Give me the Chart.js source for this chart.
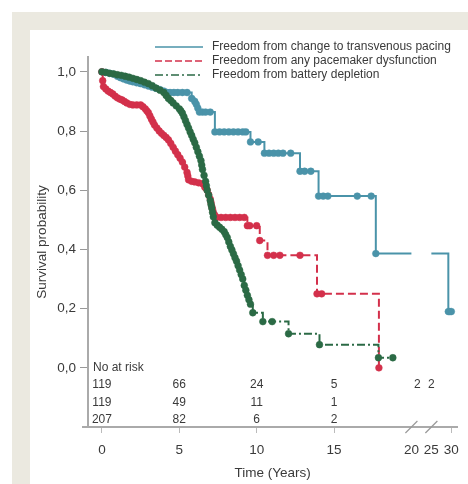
<!DOCTYPE html>
<html>
<head>
<meta charset="utf-8">
<script src="https://cdn.jsdelivr.net/npm/chart.js@4.4.0/dist/chart.umd.min.js"></script>
<style>
  html, body { margin: 0; padding: 0; background: #fff; }
  .frame { position: absolute; left: 12px; top: 12px; width: 456px; height: 472px; background: #ebe9e0; }
  .panel { position: absolute; left: 30px; top: 30px; width: 438px; height: 454px; background: #fff; }
  .wrap { position: absolute; left: 0; top: 0; width: 468px; height: 484px; }
</style>
</head>
<body>
<div class="frame"></div>
<div class="panel"></div>
<div class="wrap"><canvas id="km"></canvas></div>
<script>
// Kaplan-Meier estimates, time in years (steps + censoring marks)
const pacingTime = [0, 0.25, 0.5, 0.75, 1.0, 1.2, 1.4, 1.6, 1.8, 2.0, 2.25, 2.5, 2.75, 3.0, 3.25, 3.5, 3.75, 4.0, 4.2, 4.4, 4.65, 4.9, 5.2, 5.5, 5.8, 6.0, 6.1, 6.2, 6.3, 6.5, 6.7, 7.0, 7.3, 7.6, 7.9, 8.2, 8.5, 8.8, 9.1, 9.3, 9.6, 10.1, 10.5, 10.8, 11.1, 11.4, 11.7, 12.2, 12.8, 13.1, 13.5, 14.0, 14.3, 14.6, 16.5, 17.4, 17.7, 20, 25, 29.25, 29.6, 30];
const pacingSurv = [1.0, 0.998, 0.995, 0.992, 0.985, 0.98, 0.976, 0.972, 0.969, 0.966, 0.963, 0.96, 0.956, 0.952, 0.948, 0.944, 0.94, 0.935, 0.93, 0.93, 0.93, 0.93, 0.93, 0.93, 0.91, 0.90, 0.89, 0.877, 0.864, 0.864, 0.864, 0.864, 0.797, 0.797, 0.797, 0.797, 0.797, 0.797, 0.797, 0.797, 0.763, 0.763, 0.725, 0.725, 0.725, 0.725, 0.725, 0.725, 0.664, 0.664, 0.664, 0.58, 0.58, 0.58, 0.58, 0.58, 0.386, 0.386, 0.386, 0.19, 0.19, 0.19];

const dysfTime = [0, 0.05, 0.1, 0.25, 0.4, 0.55, 0.7, 0.85, 1.0, 1.15, 1.3, 1.45, 1.6, 1.8, 2.0, 2.25, 2.5, 2.65, 2.8, 2.9, 3.0, 3.1, 3.2, 3.3, 3.4, 3.55, 3.7, 3.85, 4.0, 4.15, 4.3, 4.45, 4.6, 4.75, 4.9, 5.05, 5.2, 5.35, 5.5, 5.55, 5.6, 5.8, 6.0, 6.25, 6.5, 6.65, 6.8, 6.9, 7.0, 7.05, 7.1, 7.15, 7.2, 7.3, 7.4, 7.7, 8.0, 8.3, 8.6, 8.9, 9.2, 9.4, 9.55, 10.0, 10.2, 10.7, 11.1, 11.5, 12.8, 13.9, 14.2, 17.9];
const dysfSurv = [1.0, 0.97, 0.95, 0.942, 0.935, 0.93, 0.925, 0.918, 0.912, 0.908, 0.905, 0.90, 0.895, 0.89, 0.888, 0.888, 0.888, 0.882, 0.875, 0.868, 0.862, 0.851, 0.84, 0.83, 0.82, 0.81, 0.80, 0.792, 0.785, 0.778, 0.77, 0.758, 0.745, 0.732, 0.72, 0.708, 0.695, 0.678, 0.66, 0.648, 0.635, 0.63, 0.628, 0.625, 0.622, 0.61, 0.60, 0.585, 0.57, 0.558, 0.545, 0.535, 0.525, 0.515, 0.508, 0.508, 0.508, 0.508, 0.508, 0.508, 0.508, 0.48, 0.48, 0.48, 0.43, 0.38, 0.38, 0.38, 0.38, 0.25, 0.25, 0.0];

const batteryTime = [0, 0.25, 0.5, 0.75, 1.0, 1.25, 1.5, 1.75, 2.0, 2.25, 2.5, 2.75, 3.0, 3.25, 3.5, 3.75, 4.0, 4.15, 4.3, 4.45, 4.6, 4.8, 5.0, 5.1, 5.2, 5.3, 5.4, 5.5, 5.6, 5.7, 5.8, 5.9, 6.0, 6.1, 6.2, 6.3, 6.4, 6.45, 6.5, 6.6, 6.7, 6.75, 6.8, 6.9, 7.0, 7.05, 7.1, 7.15, 7.2, 7.3, 7.45, 7.6, 7.75, 7.9, 8.0, 8.1, 8.2, 8.3, 8.4, 8.5, 8.6, 8.7, 8.8, 8.9, 9.0, 9.1, 9.2, 9.3, 9.4, 9.5, 9.6, 9.75, 10.4, 11.0, 12.06, 14.06, 17.87, 18.8];
const batterySurv = [1.0, 0.998, 0.995, 0.993, 0.99, 0.988, 0.985, 0.982, 0.978, 0.974, 0.97, 0.965, 0.96, 0.953, 0.945, 0.938, 0.93, 0.92, 0.91, 0.903, 0.895, 0.885, 0.875, 0.868, 0.86, 0.848, 0.835, 0.822, 0.81, 0.797, 0.785, 0.772, 0.76, 0.745, 0.73, 0.715, 0.70, 0.685, 0.67, 0.65, 0.63, 0.615, 0.60, 0.583, 0.565, 0.552, 0.54, 0.525, 0.51, 0.49, 0.482, 0.475, 0.468, 0.46, 0.45, 0.44, 0.425, 0.41, 0.398, 0.385, 0.372, 0.36, 0.345, 0.33, 0.315, 0.30, 0.278, 0.262, 0.245, 0.23, 0.215, 0.186, 0.156, 0.156, 0.115, 0.078, 0.034, 0.034];

const seriesLabels = [
  'Freedom from change to transvenous pacing',
  'Freedom from any pacemaker dysfunction',
  'Freedom from battery depletion'
];

// numbers at risk
const riskTimes = [0, 5, 10, 15, 21.5, 25];
const riskPacing = [119, 66, 24, 5, 2, 2];
const riskDysf = [119, 49, 11, 1, null, null];
const riskBattery = [207, 82, 6, 2, null, null];

const xTicks = [0, 5, 10, 15, 20, 25, 30];
const yTicks = [0, 0.2, 0.4, 0.6, 0.8, 1.0];
const axisBreak = [20, 25];

const colBlue = '#4a93a9';
const colRed = '#d3304b';
const colGreen = '#2b6a45';
const textCol = '#3a3a3a';
const fontFam = "'Liberation Sans', Arial, sans-serif";

// time axis is squeezed after 20 years
const SQUEEZE = 0.258;
const warp = v => v <= axisBreak[0] ? v : axisBreak[0] + (v - axisBreak[0]) * SQUEEZE;
const unwarp = u => u <= axisBreak[0] ? u : axisBreak[0] + (u - axisBreak[0]) / SQUEEZE;

class BrokenScale extends Chart.LinearScale {
  static id = 'broken';
  static defaults = Chart.LinearScale.defaults;
  getPixelForValue(value) {
    if (value === null || value === undefined) return NaN;
    const a = warp(this.min), b = warp(this.max);
    return this.getPixelForDecimal((warp(value) - a) / (b - a));
  }
  getValueForPixel(pixel) {
    const a = warp(this.min), b = warp(this.max);
    return unwarp(a + this.getDecimalForPixel(pixel) * (b - a));
  }
}
Chart.register(BrokenScale);

const pts = (ts, ss) => ts.map((t, i) => ({ x: t, y: ss[i] }));

function kmDataset(label, ts, ss, color, dash, order) {
  return {
    label,
    data: pts(ts, ss),
    borderColor: color,
    backgroundColor: color,
    pointBackgroundColor: color,
    pointBorderColor: color,
    borderWidth: 2,
    borderDash: dash,
    stepped: true,
    pointRadius: ctx => {
      const p = ctx.raw;
      return p && axisBreak.includes(p.x) ? 0 : 3.4;
    },
    pointBorderWidth: 0.5,
    pointHoverRadius: 3.4,
    segment: {
      borderColor: ctx => (ctx.p0.parsed.x >= axisBreak[0] && ctx.p1.parsed.x <= axisBreak[1]) ? 'rgba(0,0,0,0)' : undefined
    },
    order
  };
}

const extras = {
  id: 'kmExtras',
  afterDraw(chart) {
    const { ctx, chartArea: ca, scales: { x, y } } = chart;
    ctx.save();

    // axis line reaches a little past the y axis
    ctx.strokeStyle = '#aaa';
    ctx.lineWidth = 2;
    ctx.beginPath();
    ctx.moveTo(ca.left - 6, ca.bottom);
    ctx.lineTo(ca.left, ca.bottom);
    ctx.stroke();

    // break marks on the time axis
    ctx.lineWidth = 1.2;
    ctx.strokeStyle = '#999';
    axisBreak.forEach(v => {
      const px = x.getPixelForValue(v);
      ctx.beginPath();
      ctx.moveTo(px - 6, ca.bottom + 6);
      ctx.lineTo(px + 6, ca.bottom - 6);
      ctx.stroke();
    });

    // legend
    const styles = [
      { c: colBlue, d: [] },
      { c: colRed, d: [7, 3] },
      { c: colGreen, d: [8, 3, 2, 3] }
    ];
    ctx.font = '12px ' + fontFam;
    ctx.textBaseline = 'middle';
    ctx.textAlign = 'left';
    seriesLabels.forEach((lab, i) => {
      const ly = ca.top - 10 + i * 14;
      const lx = ca.left + 67;
      ctx.strokeStyle = styles[i].c;
      ctx.lineWidth = 1.5;
      ctx.setLineDash(styles[i].d);
      ctx.beginPath();
      ctx.moveTo(lx, ly);
      ctx.lineTo(lx + 48, ly);
      ctx.stroke();
      ctx.setLineDash([]);
      ctx.fillStyle = textCol;
      ctx.fillText(lab, lx + 57, ly);
    });

    // numbers at risk
    const y0 = y.getPixelForValue(0);
    ctx.fillText('No at risk', ca.left + 5, y0);
    ctx.textAlign = 'center';
    [riskPacing, riskDysf, riskBattery].forEach((row, r) => {
      row.forEach((n, i) => {
        if (n === null) return;
        ctx.fillText(String(n), x.getPixelForValue(riskTimes[i]), y0 + (r + 1) * 17.3);
      });
    });
    ctx.restore();
  }
};

new Chart(document.getElementById('km'), {
  type: 'line',
  data: {
    datasets: [
      kmDataset(seriesLabels[0], pacingTime, pacingSurv, colBlue, [], 2),
      kmDataset(seriesLabels[1], dysfTime, dysfSurv, colRed, [8, 4], 1),
      kmDataset(seriesLabels[2], batteryTime, batterySurv, colGreen, [8, 3, 2, 3], 0)
    ]
  },
  options: {
    responsive: true,
    maintainAspectRatio: false,
    animation: false,
    layout: { padding: { top: 57, right: 10, left: 0, bottom: 0 } },
    plugins: { legend: { display: false }, tooltip: { enabled: false } },
    scales: {
      x: {
        type: 'broken',
        min: -0.9,
        max: 31.5,
        afterBuildTicks: s => { s.ticks = xTicks.map(v => ({ value: v })); },
        afterFit: s => { s.height = 57; },
        ticks: {
          autoSkip: false, maxRotation: 0, padding: 9, color: textCol,
          font: { size: 13.5, family: fontFam },
          callback: v => String(v)
        },
        grid: {
          drawOnChartArea: false, tickLength: 6, lineWidth: 1,
          tickColor: c => axisBreak.includes(c.tick && c.tick.value) ? 'rgba(0,0,0,0)' : '#bbb'
        },
        border: { color: '#aaa', width: 2 },
        title: { display: true, text: 'Time (Years)', color: textCol, font: { size: 13.5, family: fontFam }, padding: { top: 0, bottom: 3 } }
      },
      y: {
        min: -0.2,
        max: 1.05,
        afterBuildTicks: s => { s.ticks = yTicks.map(v => ({ value: v })); },
        afterFit: s => { s.width = 88; },
        ticks: {
          padding: 4, color: textCol,
          font: { size: 13.5, family: fontFam },
          callback: v => v.toFixed(1).replace('.', ',')
        },
        grid: { drawOnChartArea: false, tickLength: 8, tickColor: '#999', lineWidth: 1 },
        border: { color: '#aaa', width: 2 },
        title: { display: true, text: 'Survival probability', color: textCol, font: { size: 13.5, family: fontFam }, padding: { top: 34, bottom: 0 } }
      }
    }
  },
  plugins: [extras]
});
</script>
</body>
</html>
